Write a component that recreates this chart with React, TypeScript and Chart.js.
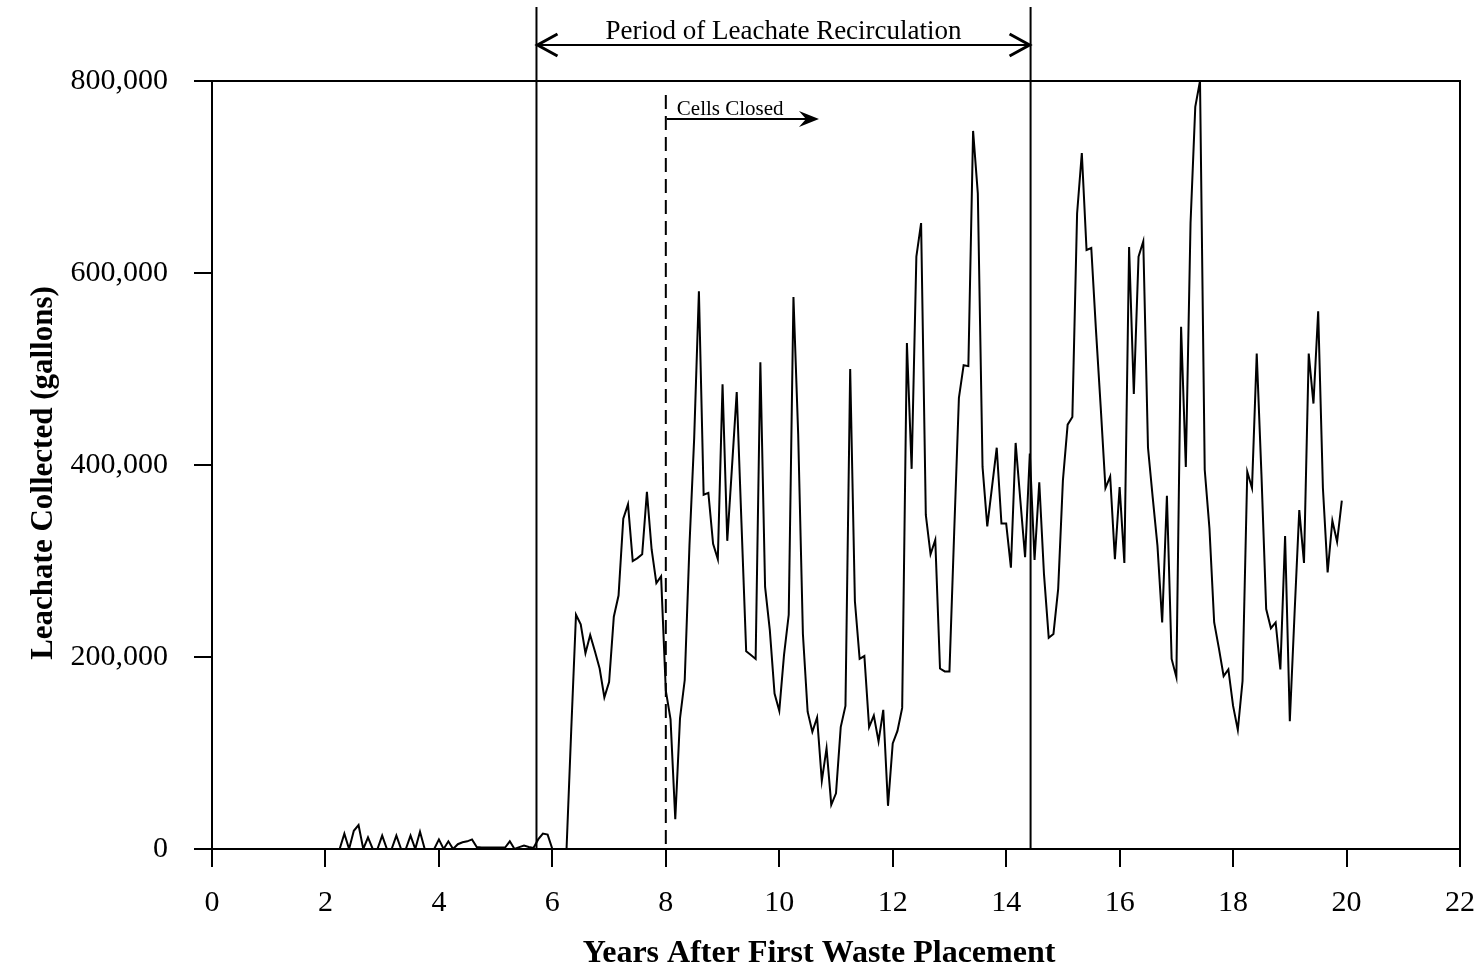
import { useEffect, useRef } from "react";
import { Chart, registerables } from "chart.js";

Chart.register(...registerables);

// Monthly leachate volumes; the first record is month 27 after first waste placement.
const FIRST_MONTH = 27;
const monthlyLeachateGallons = [
  0, 16000, 0, 19000, 25000, 0, 12000, 0, 0, 14000,
  0, 0, 14000, 0, 0, 14000, 0, 18000, 0, 0,
  0, 10000, 0, 8000, 0, 5000, 7000, 8000, 10000, 2000,
  1500, 1500, 1500, 1500, 1500, 1500, 8000, 0, 2000, 3500,
  2000, 1000, 10000, 16000, 15000, 0, 0, 0, 0, 125000,
  244000, 234000, 204000, 223000, 206000, 188000, 158000, 174000, 242000, 264000,
  344000, 359000, 300000, 303000, 307000, 372000, 312000, 277000, 284000, 165000,
  135000, 31000, 136000, 176000, 316000, 428000, 581000, 369000, 371000, 318000,
  302000, 484000, 321000, 398000, 476000, 340000, 206000, 202000, 198000, 507000,
  273000, 228000, 162000, 144000, 202000, 244000, 575000, 432000, 224000, 143000,
  122000, 137000, 71000, 105000, 46000, 58000, 127000, 149000, 500000, 258000,
  198000, 201000, 127000, 139000, 112000, 145000, 45000, 110000, 123000, 147000,
  527000, 396000, 617000, 652000, 348000, 307000, 322000, 188000, 185000, 185000,
  330000, 470000, 504000, 503000, 748000, 683000, 398000, 336000, 377000, 418000,
  339000, 339000, 293000, 423000, 363000, 304000, 412000, 301000, 382000, 286000,
  220000, 224000, 271000, 384000, 442000, 450000, 662000, 725000, 624000, 626000,
  540000, 460000, 376000, 388000, 302000, 377000, 298000, 627000, 474000, 617000,
  633000, 418000, 366000, 316000, 236000, 368000, 198000, 179000, 544000, 398000,
  652000, 773000, 800000, 395000, 334000, 236000, 209000, 180000, 187000, 149000,
  124000, 175000, 393000, 376000, 516000, 390000, 250000, 230000, 236000, 187000,
  326000, 133000, 245000, 353000, 298000, 516000, 464000, 560000, 376000, 288000,
  342000, 320000, 363000,
];

// Axis ranges and tick spacing
const X_MIN = 0;
const X_MAX = 22;
const X_STEP = 2;
const Y_MIN = 0;
const Y_MAX = 800000;
const Y_STEP = 200000;

// Event markers (years after first waste placement)
const recirculationStartYear = 5.72;
const recirculationEndYear = 14.43;
const cellsClosedYear = 8.0;
const cellsClosedArrowEndYear = 10.7;

const recirculationLabel = "Period of Leachate Recirculation";
const cellsClosedLabel = "Cells Closed";
const xTitle = "Years After First Waste Placement";
const yTitle = "Leachate Collected (gallons)";

const SERIF = '"Liberation Serif", "Times New Roman", Times, serif';

function chevron(ctx: CanvasRenderingContext2D, tipX: number, y: number, dir: number, len: number, half: number) {
  ctx.beginPath();
  ctx.moveTo(tipX - dir * len, y - half);
  ctx.lineTo(tipX, y);
  ctx.lineTo(tipX - dir * len, y + half);
  ctx.stroke();
}

function stealth(ctx: CanvasRenderingContext2D, tipX: number, y: number, len: number, half: number) {
  ctx.beginPath();
  ctx.moveTo(tipX, y);
  ctx.lineTo(tipX - len, y - half);
  ctx.lineTo(tipX - len * 0.65, y);
  ctx.lineTo(tipX - len, y + half);
  ctx.closePath();
  ctx.fill();
}

const annotationPlugin = {
  id: "recirculationMarkers",
  afterDraw(chart: any) {
    const { ctx, chartArea, scales } = chart;
    const xs = scales.x;
    const { top, bottom, left, right } = chartArea;
    ctx.save();
    ctx.strokeStyle = "#000";
    ctx.fillStyle = "#000";
    ctx.lineCap = "butt";

    // top and right frame lines
    ctx.lineWidth = 2;
    ctx.beginPath();
    ctx.moveTo(left, top);
    ctx.lineTo(right, top);
    ctx.lineTo(right, bottom);
    ctx.stroke();

    // recirculation period boundaries
    const xStart = xs.getPixelForValue(recirculationStartYear);
    const xEnd = xs.getPixelForValue(recirculationEndYear);
    ctx.beginPath();
    ctx.moveTo(xStart, 7);
    ctx.lineTo(xStart, bottom);
    ctx.moveTo(xEnd, 7);
    ctx.lineTo(xEnd, bottom);
    ctx.stroke();

    // double-headed arrow across the period
    const arrowY = 45;
    ctx.beginPath();
    ctx.moveTo(xStart, arrowY);
    ctx.lineTo(xEnd, arrowY);
    ctx.stroke();
    ctx.lineWidth = 3;
    chevron(ctx, xStart + 1, arrowY, -1, 20, 11);
    chevron(ctx, xEnd - 1, arrowY, 1, 20, 11);

    ctx.font = `27px ${SERIF}`;
    ctx.textAlign = "center";
    ctx.textBaseline = "alphabetic";
    ctx.fillText(recirculationLabel, (xStart + xEnd) / 2, 39);

    // cells closed marker
    const xClosed = xs.getPixelForValue(cellsClosedYear);
    const xClosedEnd = xs.getPixelForValue(cellsClosedArrowEndYear);
    ctx.lineWidth = 2;
    ctx.setLineDash([14, 7]);
    ctx.beginPath();
    ctx.moveTo(xClosed, 95);
    ctx.lineTo(xClosed, bottom);
    ctx.stroke();
    ctx.setLineDash([]);

    const closedY = 119;
    ctx.beginPath();
    ctx.moveTo(xClosed + 1, closedY);
    ctx.lineTo(xClosedEnd - 10, closedY);
    ctx.stroke();
    stealth(ctx, xClosedEnd, closedY, 20, 8);

    ctx.font = `21px ${SERIF}`;
    ctx.textAlign = "left";
    ctx.fillText(cellsClosedLabel, xClosed + 11, 115);

    // axis titles
    ctx.font = `bold 32px ${SERIF}`;
    ctx.textAlign = "center";
    ctx.textBaseline = "alphabetic";
    ctx.fillText(xTitle, 819, 962);

    ctx.save();
    ctx.translate(44, 473);
    ctx.rotate(-Math.PI / 2);
    ctx.font = `bold 31px ${SERIF}`;
    ctx.textBaseline = "middle";
    ctx.fillText(yTitle, 0, 0);
    ctx.restore();

    ctx.restore();
  },
};

export default function App() {
  const canvasRef = useRef<HTMLCanvasElement | null>(null);

  useEffect(() => {
    const canvas = canvasRef.current;
    if (!canvas) return;

    const points = monthlyLeachateGallons.map((v, i) => ({
      x: (FIRST_MONTH + i) / 12,
      y: v,
    }));

    const tickGrid = {
      display: true,
      drawOnChartArea: false,
      drawTicks: true,
      tickLength: 18,
      color: "#000",
      lineWidth: 2,
    };

    const chart = new Chart(canvas, {
      type: "line",
      data: {
        datasets: [
          {
            data: points,
            borderColor: "#000",
            borderWidth: 2,
            pointRadius: 0,
            tension: 0,
            fill: false,
          },
        ],
      },
      options: {
        animation: false,
        responsive: false,
        devicePixelRatio: 1,
        layout: { padding: { top: 81, right: 24, left: 0, bottom: 0 } },
        plugins: {
          legend: { display: false },
          tooltip: { enabled: false },
        },
        scales: {
          x: {
            type: "linear",
            min: X_MIN,
            max: X_MAX,
            grid: tickGrid,
            border: { display: true, color: "#000", width: 2 },
            ticks: {
              stepSize: X_STEP,
              color: "#000",
              padding: 18,
              maxRotation: 0,
              font: { family: SERIF, size: 30 },
            },
            afterFit(scale: any) {
              scale.height = 125;
              scale.paddingLeft = 0;
              scale.paddingRight = 0;
            },
          },
          y: {
            type: "linear",
            min: Y_MIN,
            max: Y_MAX,
            grid: tickGrid,
            border: { display: true, color: "#000", width: 2 },
            ticks: {
              stepSize: Y_STEP,
              color: "#000",
              padding: 26,
              font: { family: SERIF, size: 30 },
              callback: (v: any) => Number(v).toLocaleString("en-US"),
            },
            afterFit(scale: any) {
              scale.width = 212;
              scale.paddingTop = 0;
              scale.paddingBottom = 0;
            },
          },
        },
      } as any,
      plugins: [annotationPlugin],
    });

    return () => chart.destroy();
  }, []);

  return (
    <div style={{ position: "absolute", left: 0, top: 0, width: 1484, height: 974, background: "#fff" }}>
      <canvas ref={canvasRef} width={1484} height={974} />
    </div>
  );
}
